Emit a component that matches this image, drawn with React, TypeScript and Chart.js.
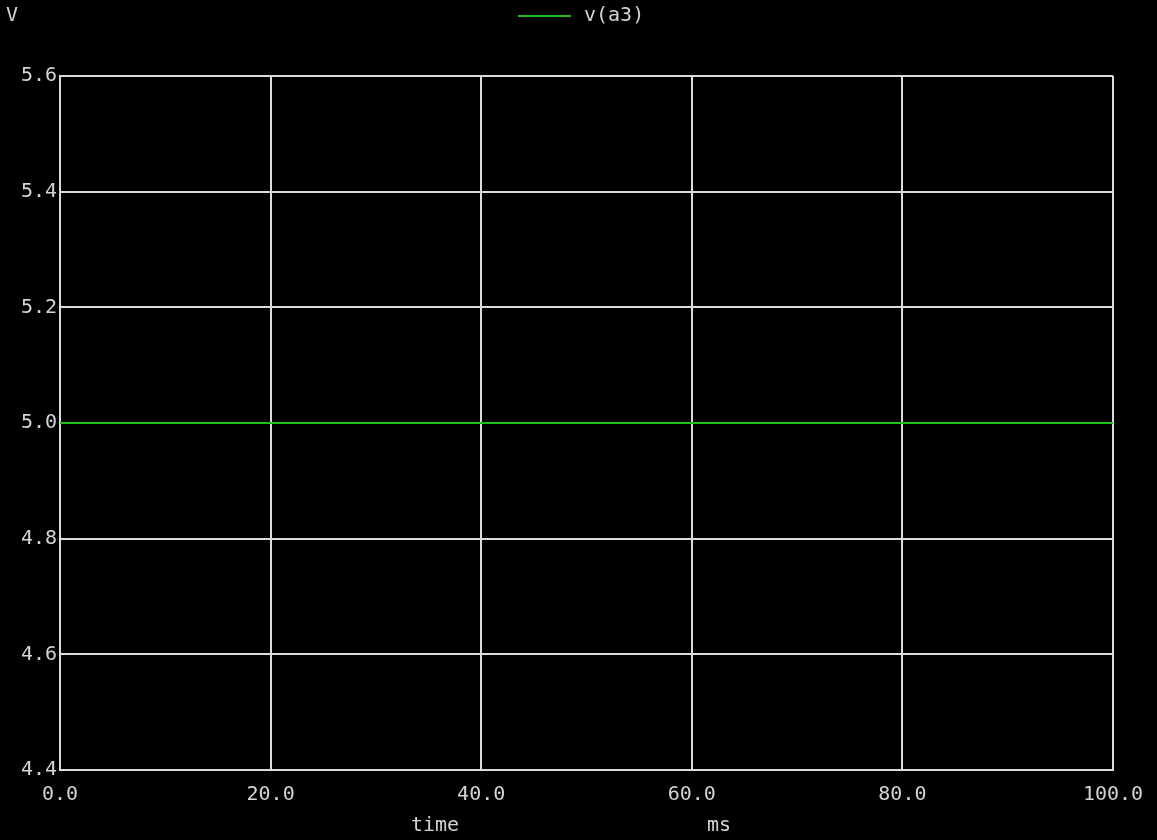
import React, { useEffect, useRef } from "react";
import { Chart, registerables } from "chart.js";

Chart.register(...registerables);

const timeMs: number[] = [0, 100];
const va3: number[] = [5.0, 5.0];
const seriesLabel = "v(a3)";
const xTitle = "time";
const xUnit = "ms";
const yUnit = "V";

const FONT = "DejaVu Sans Mono";
const TEXT = "#d4d4d4";
const GRID = "#dcdcdc";
const GREEN = "#1fbf1f";

const overlayPlugin = {
  id: "overlay",
  afterDraw(chart: any) {
    const ctx = chart.ctx as CanvasRenderingContext2D;
    ctx.save();
    ctx.font = `20px "${FONT}"`;
    ctx.fillStyle = TEXT;
    ctx.textBaseline = "middle";
    ctx.textAlign = "left";
    ctx.fillText(yUnit, 6, 16);
    ctx.fillText(xTitle, 411, 826);
    ctx.fillText(xUnit, 707, 826);
    ctx.fillText(seriesLabel, 584, 16);
    ctx.strokeStyle = GREEN;
    ctx.lineWidth = 2;
    ctx.beginPath();
    ctx.moveTo(518, 16);
    ctx.lineTo(571, 16);
    ctx.stroke();
    ctx.restore();
  },
};

export default function App() {
  const ref = useRef<HTMLCanvasElement>(null);
  useEffect(() => {
    document.body.style.margin = "0";
    document.body.style.background = "#000";
    const chart = new Chart(ref.current!, {
      type: "line",
      data: {
        datasets: [
          {
            label: seriesLabel,
            data: timeMs.map((t, i) => ({ x: t, y: va3[i] })),
            borderColor: GREEN,
            borderWidth: 2,
            pointRadius: 0,
            fill: false,
          },
        ],
      },
      options: {
        responsive: false,
        animation: false,
        layout: { padding: { left: 0, top: 76, right: 44, bottom: 0 } },
        plugins: { legend: { display: false }, tooltip: { enabled: false } },
        scales: {
          x: {
            type: "linear",
            min: 0,
            max: 100,
            afterFit: (s: any) => {
              s.height = 70;
            },
            grid: { color: GRID, lineWidth: 2, drawTicks: false },
            border: { color: GRID, width: 2 },
            ticks: {
              stepSize: 20,
              color: TEXT,
              padding: 13,
              autoSkip: false,
              maxRotation: 0,
              font: { family: FONT, size: 20 },
              callback: (v: any) => Number(v).toFixed(1),
            },
          },
          y: {
            type: "linear",
            min: 4.4,
            max: 5.6,
            afterFit: (s: any) => {
              s.width = 60;
            },
            grid: { color: GRID, lineWidth: 2, drawTicks: false },
            border: { color: GRID, width: 2 },
            ticks: {
              stepSize: 0.2,
              color: TEXT,
              padding: 3,
              autoSkip: false,
              font: { family: FONT, size: 20 },
              callback: (v: any) => Number(v).toFixed(1),
            },
          },
        },
      },
      plugins: [overlayPlugin],
    });
    return () => chart.destroy();
  }, []);
  return (
    <div style={{ position: "fixed", left: 0, top: 0, width: 1157, height: 840, background: "#000" }}>
      <canvas ref={ref} width={1157} height={840} />
    </div>
  );
}
